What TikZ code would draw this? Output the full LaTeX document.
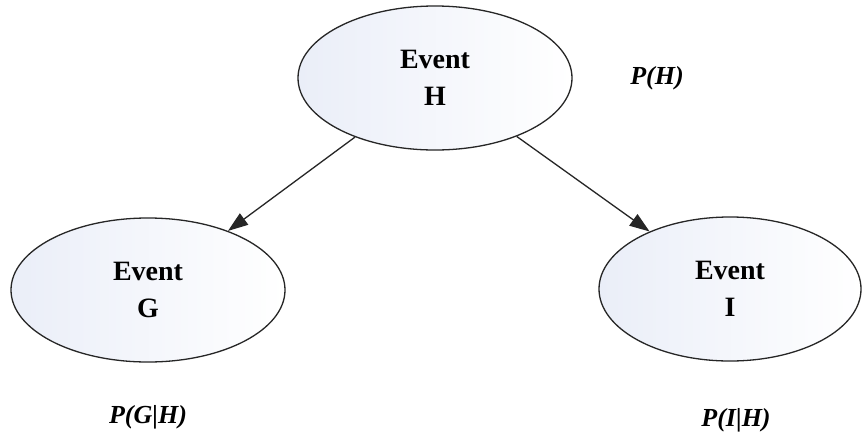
\documentclass[tikz,border=0pt]{standalone}
\usepackage{fontspec}
\setmainfont{Liberation Serif}
\newfontfamily\evfont{Liberation Serif}
\usetikzlibrary{shapes.geometric,arrows.meta}
\definecolor{eventfill}{RGB}{234,238,248}
\tikzset{
  event/.style={ellipse, draw=black!85, line width=1.3pt,
    left color=eventfill, right color=white,
    minimum width=274pt, minimum height=144pt, inner sep=0pt,
    align=center, font=\evfont\fontsize{28}{37}\selectfont\bfseries},
  prob/.style={font=\evfont\fontsize{26}{28}\selectfont\bfseries\itshape, inner sep=0pt},
  link/.style={draw=black!85, line width=1.3pt,
    -{Triangle[length=20pt,width=14pt]}}
}
\begin{document}
\begin{tikzpicture}[x=1pt,y=-1pt]
  \fill[white] (0,0) rectangle (864,442);
  \useasboundingbox (0,0) rectangle (864,442);

  % event nodes
  \node[event] (H) at (435,78) {Event\\H};
  \node[event] (G) at (148,290) {Event\\G};
  \node[event, minimum width=262pt] (I) at (730,289) {Event\\I};

  % probability labels
  \node[prob] (pH) at (657,78) {P(H)};
  \node[prob] (pG) at (148,417) {P(G|H)};
  \node[prob] (pI) at (736,420) {P(I|H)};

  % dependencies
  \draw[link] (H) -- (G);
  \draw[link] (H) -- (I);
\end{tikzpicture}
\end{document}
